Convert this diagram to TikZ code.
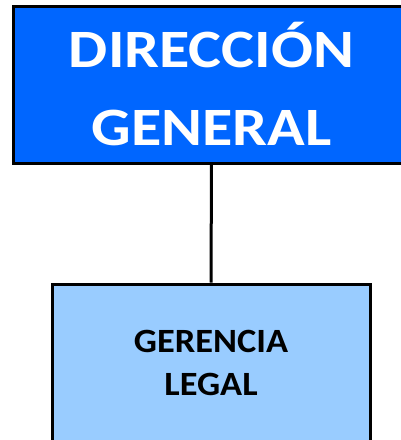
\documentclass[tikz,border=0pt]{standalone}
\usepackage{fontspec}
\setmainfont{Carlito}
\newfontfamily\dirfont{Carlito}[FakeStretch=1.15]
\newfontfamily\legfont{Carlito}[FakeStretch=1.07]
\usepackage{xcolor}
\usetikzlibrary{positioning}

\definecolor{dirblue}{HTML}{0066FF}
\definecolor{legblue}{HTML}{99CCFF}

\tikzset{
  orgbox/.style={draw=black, line width=3pt, align=center, inner sep=0pt},
  orgline/.style={draw=black, line width=3pt}
}

\begin{document}
\begin{tikzpicture}[x=1pt, y=-1pt]
  \useasboundingbox (0,0) rectangle (400,440);
  \node[orgbox, fill=dirblue, text=white, minimum width=397pt, minimum height=157pt,
        font=\dirfont\fontsize{54}{78}\selectfont\bfseries] (dir) at (211.5,84.5) {DIRECCIÓN\\GENERAL};
  \node[orgbox, fill=legblue, text=black, minimum width=318pt, minimum height=157pt,
        font=\legfont\fontsize{34}{43}\selectfont\bfseries] (leg) at (211,362.5) {GERENCIA\\LEGAL};
  \draw[orgline] (dir.south) -- (leg.north);
\end{tikzpicture}
\end{document}
